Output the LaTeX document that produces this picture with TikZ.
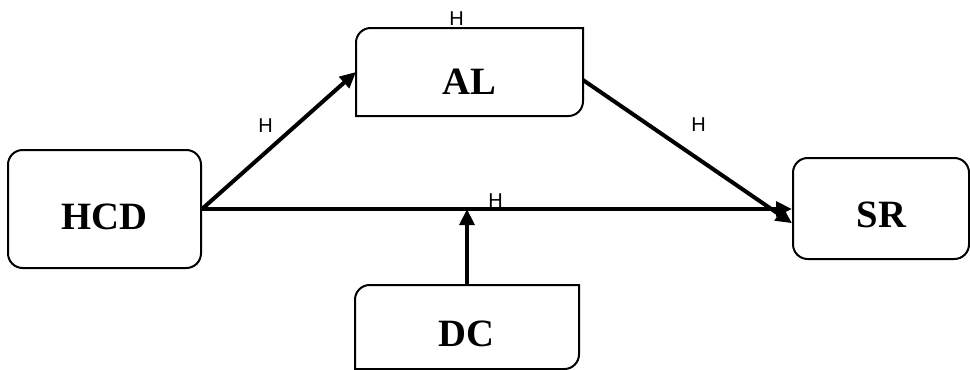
\documentclass[tikz,border=0pt]{standalone}
\usepackage{fontspec}
\setmainfont{Liberation Serif}
\newfontfamily\labelfont{Liberation Sans}
\usetikzlibrary{arrows.meta}

\begin{document}
\begin{tikzpicture}[x=0.75pt,y=0.75pt,yscale=-1,xscale=1,
	varbox/.style={rectangle,inner sep=0pt,line width=1.5pt},
	boxline/.style={line width=1.5pt},
	vartext/.style={inner sep=0pt,font=\bfseries\fontsize{29}{29}\selectfont},
	hlabel/.style={inner sep=0pt,font=\labelfont\fontsize{15}{15}\selectfont},
	link/.style={line width=3pt,-{Triangle[length=12pt,width=11pt]}}]
	\useasboundingbox (0,0) rectangle (970,369);
	
	%Shape: Rounded Rect [id:hcd] 
	\node [varbox,draw,rounded corners=11pt,minimum width=144.75pt,minimum height=88.5pt] (hcd) at (104.5,209) {};
	%Shape: Rounded Single Corner Rect [id:al] 
	\node [varbox,minimum width=168.75pt,minimum height=64.5pt] (al) at (469.5,72) {};
	\draw [boxline] (al.south west) [rounded corners=11pt] -- (al.north west) [sharp corners] -- (al.north east) [rounded corners=11pt] -- (al.south east) [sharp corners] -- cycle ;
	%Shape: Rounded Rect [id:sr] 
	\node [varbox,draw,rounded corners=11pt,minimum width=132pt,minimum height=75.75pt] (sr) at (881,208.5) {};
	%Shape: Rounded Single Corner Rect [id:dc] 
	\node [varbox,minimum width=166.5pt,minimum height=61.5pt] (dc) at (467,327) {};
	\draw [boxline] (dc.south west) [rounded corners=11pt] -- (dc.north west) [sharp corners] -- (dc.north east) [rounded corners=11pt] -- (dc.south east) [sharp corners] -- cycle ;
	
	%Straight Lines [id:hcd-al] 
	\draw [link] (hcd.east) -- (al.west) ;
	%Straight Lines [id:al-sr] 
	\draw [link] ([yshift=6pt]al.east) -- ([yshift=11pt]sr.west) ;
	%Straight Lines [id:hcd-sr] 
	\draw [link] (hcd.east) -- (hcd.east -| sr.west) ;
	\coordinate (meet) at (dc.north |- hcd.east) ;
	%Straight Lines [id:dc-meet] 
	\draw [link] (dc.north) -- (meet) ;
	
	% Text Node
	\node [vartext] (hcdtext) at (104.5,217) {HCD};
	% Text Node
	\node [vartext] (altext) at (469.5,82) {AL};
	% Text Node
	\node [vartext] (srtext) at (881.5,214.5) {SR};
	% Text Node
	\node [vartext] (dctext) at (466.5,334) {DC};
	% Text Node
	\node [hlabel] (htop) at (456.5,19) {H};
	% Text Node
	\node [hlabel] (hleft) at (265.5,125.5) {H};
	% Text Node
	\node [hlabel] (hright) at (698.5,125) {H};
	% Text Node
	\node [hlabel] (hmid) at (495.5,201) {H};
	
\end{tikzpicture}
\end{document}
